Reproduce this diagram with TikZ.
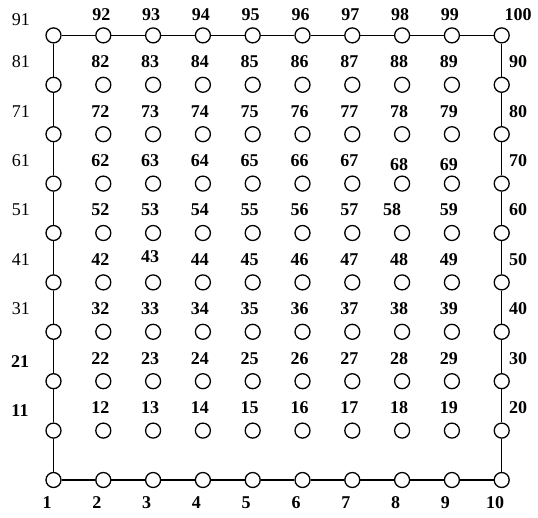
\documentclass[tikz,border=0pt]{standalone}
\usepackage{fontspec}
\setmainfont{Liberation Serif}
\begin{document}
\begin{tikzpicture}[x=1pt,y=-1pt,
  vert/.style={circle,draw,line width=1.3pt,minimum size=15pt,inner sep=0pt,fill=white},
  lab/.style={font=\bfseries\fontsize{18}{18}\selectfont,inner sep=0pt},
  labr/.style={font=\fontsize{18}{18}\selectfont,inner sep=0pt},
  edge/.style={line width=1.4pt}]
\useasboundingbox (0,0) rectangle (538,518);
% vertices
\foreach \r in {1,...,10}{
  \foreach \c in {1,...,10}{
    \pgfmathtruncatemacro\n{(\r-1)*10+\c}
    \node[vert] (c\n) at ({53.5+(\c-1)*49.8},{480-(\r-1)*49.4}) {};
  }
}
% boundary
\draw[edge] (c1) -- (c2) -- (c3) -- (c4) -- (c5) -- (c6) -- (c7) -- (c8) -- (c9) -- (c10);
\draw[edge] (c91) -- (c92) -- (c93) -- (c94) -- (c95) -- (c96) -- (c97) -- (c98) -- (c99) -- (c100);
\draw[edge] (c1) -- (c11) -- (c21) -- (c31) -- (c41) -- (c51) -- (c61) -- (c71) -- (c81) -- (c91);
\draw[edge] (c10) -- (c20) -- (c30) -- (c40) -- (c50) -- (c60) -- (c70) -- (c80) -- (c90) -- (c100);
% interior labels
\foreach \r in {2,...,9}{
  \foreach \c in {2,...,9}{
    \pgfmathtruncatemacro\n{(\r-1)*10+\c}
    \pgfmathsetmacro\dx{ifthenelse(\n==58,-10,-3)}
    \pgfmathsetmacro\dy{ifthenelse(\n==68||\n==69,-19,ifthenelse(\n==43,-26,-23))}
    \node[lab] (l\n) at ({53.5+(\c-1)*49.8+\dx},{480-(\r-1)*49.4+\dy}) {\n};
  }
}
% left column labels
\foreach \r in {4,...,9}{
  \pgfmathtruncatemacro\n{(\r-1)*10+1}
  \node[labr] (l\n) at (21,{480-(\r-1)*49.4-23}) {\n};
}
\node[labr] (l91) at (21,20) {91};
\node[lab] (l21) at (20,{480-49.4*2-20}) {21};
\node[lab] (l11) at (20,{480-49.4-20}) {11};
% bottom labels
\foreach \c in {1,...,10}{
  \node[lab] (l\c) at ({53.5+(\c-1)*49.8-6.5},503) {\c};
}
% top labels
\foreach \c in {2,...,9}{
  \pgfmathtruncatemacro\n{90+\c}
  \node[lab] (l\n) at ({53.5+(\c-1)*49.8-2},15) {\n};
}
\node[lab] (l100) at (518,15) {100};
% right labels
\foreach \r in {2,...,9}{
  \pgfmathtruncatemacro\n{\r*10}
  \node[lab] (l\n) at (518,{480-(\r-1)*49.4-23}) {\n};
}
\end{tikzpicture}
\end{document}
